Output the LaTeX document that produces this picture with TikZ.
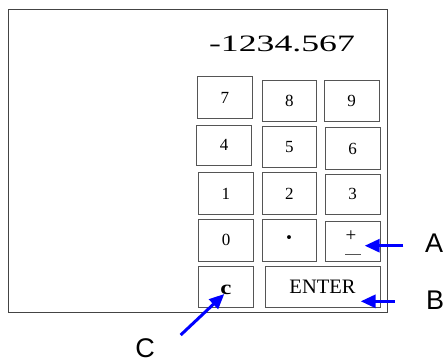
\documentclass[tikz,border=0pt]{standalone}
\usepackage{fontspec}
\setmainfont{Liberation Serif}
\newfontfamily\labelfont{Liberation Sans}
\usetikzlibrary{arrows.meta}
\definecolor{keygray}{HTML}{555555}
\definecolor{framegray}{HTML}{444444}
\definecolor{arrowblue}{RGB}{0,0,255}
\begin{document}
\begin{tikzpicture}[x=1pt,y=-1pt,
  keybox/.style={draw=keygray, line width=0.9pt, inner sep=0pt, minimum width=55pt, minimum height=41pt, font=\fontsize{17}{17}\selectfont},
  callout/.style={draw=arrowblue, line width=3pt, -{Triangle[length=15pt,width=13pt]}},
  calllabel/.style={font=\labelfont\fontsize{27}{27}\selectfont, inner sep=0pt}]
\useasboundingbox (0,0) rectangle (444,361);
\node[draw=framegray, line width=0.9pt, minimum width=379.7pt, minimum height=303.7pt, inner sep=0pt] (frame) at (197.85,160.85) {};
\node[inner sep=0pt, xscale=1.52, font=\fontsize{23.5}{23.5}\selectfont] (display) at (282,43.5) {-1234.567};
% keys
\node[keybox, minimum width=54.8pt, minimum height=41.6pt] (k7) at (224.9,97.5) {7};
\node[keybox, minimum width=54pt, minimum height=40.3pt] (k8) at (289.3,100.9) {8};
\node[keybox, minimum width=55pt, minimum height=40.3pt] (k9) at (351.5,100.9) {9};
\node[keybox, minimum width=55pt, minimum height=40.7pt] (k4) at (224.2,145.4) {4};
\node[keybox, minimum width=54pt, minimum height=41.3pt] (k5) at (289.3,146.7) {5};
\node[keybox, minimum width=54.7pt, minimum height=41.6pt] (k6) at (352.7,148.5) {6};
\node[keybox, minimum width=55pt, minimum height=41.3pt] (k1) at (225.8,193.4) {1};
\node[keybox, minimum width=54pt, minimum height=41.3pt] (k2) at (289.3,193.4) {2};
\node[keybox, minimum width=54.7pt, minimum height=39.7pt] (k3) at (352.7,194.2) {3};
\node[keybox, minimum width=54.6pt, minimum height=41.7pt] (k0) at (226,240.2) {0};
\node[keybox, minimum width=53.7pt, minimum height=41.7pt] (kdot) at (289.2,240.2) {};
\node[inner sep=0pt, font=\bfseries\fontsize{24}{24}\selectfont] (dot) at (289.2,240.2) {·};
\node[keybox, minimum width=55pt, minimum height=40.4pt] (kpm) at (352.5,241.5) {};
\node[inner sep=0pt, font=\fontsize{19}{19}\selectfont] (plus) at (351,235.8) {+};
\draw[keygray, line width=0.8pt] ([xshift=-7.5pt,yshift=-13.2pt]kpm.center) coordinate (ulA) -- ([xshift=8.5pt,yshift=-13.2pt]kpm.center) coordinate (ulB);
\node[keybox, minimum width=54.6pt, minimum height=41.3pt] (kc) at (226,286.7) {};
\node[inner sep=0pt, xscale=1.25, font=\bfseries\fontsize{20}{20}\selectfont] (clet) at (225.8,289.5) {c};
\node[keybox, minimum width=115pt, minimum height=41.3pt, font=\fontsize{20.5}{20.5}\selectfont] (kenter) at (322.5,286.7) {ENTER};
% callouts
\node[calllabel] (la) at (434,243.3) {A};
\node[calllabel] (lb) at (435,300.5) {B};
\node[calllabel] (lc) at (145,348.5) {C};
\coordinate (ta) at (403.3,245.7);
\coordinate (ha) at (364.7,245.7);
\coordinate (tb) at (394.7,301.3);
\coordinate (hb) at (360.7,301.3);
\coordinate (tc) at (180.7,335);
\coordinate (hc) at (224.3,294);
\draw[callout] (ta) -- (ha);
\draw[callout] (tb) -- (hb);
\draw[callout] (tc) -- (hc);
\end{tikzpicture}
\end{document}
